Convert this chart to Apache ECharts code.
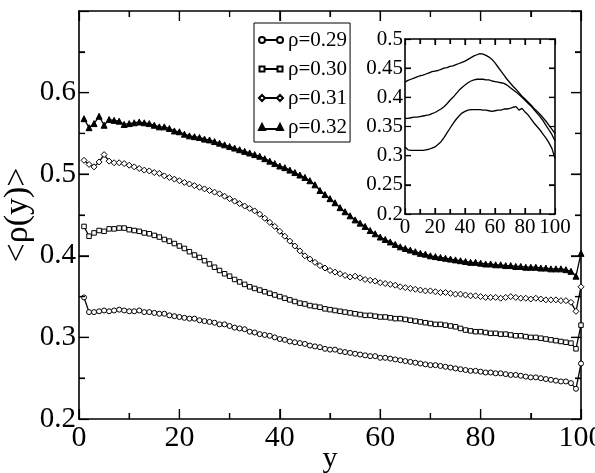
<!DOCTYPE html>
<html>
<head>
<meta charset="utf-8">
<script src="https://cdn.jsdelivr.net/npm/echarts@6/dist/echarts.min.js"></script>
<style>html,body{margin:0;padding:0;background:#fff;}#c{width:595px;height:473px;}#err{position:absolute;left:0;top:0;font:9px sans-serif;color:#c00;}</style>
</head>
<body>
<div id="c"></div>
<div id="err"></div>
<script>
window.onerror = function(m){ document.getElementById('err').textContent += String(m) + ' | '; };
// ---- main panel data ----
var mainX = [1,2,3,4,5,6,7,8,9,10,11,12,13,14,15,16,17,18,19,20,21,22,23,24,25,26,27,28,29,30,31,32,33,34,35,36,37,38,39,40,41,42,43,44,45,46,47,48,49,50,51,52,53,54,55,56,57,58,59,60,61,62,63,64,65,66,67,68,69,70,71,72,73,74,75,76,77,78,79,80,81,82,83,84,85,86,87,88,89,90,91,92,93,94,95,96,97,98,99,100];
var rho029 = [0.349,0.331,0.331,0.332,0.333,0.332,0.333,0.334,0.333,0.332,0.332,0.333,0.331,0.331,0.330,0.329,0.329,0.327,0.326,0.325,0.324,0.323,0.323,0.321,0.320,0.319,0.318,0.316,0.316,0.314,0.312,0.311,0.310,0.307,0.306,0.304,0.303,0.302,0.300,0.298,0.297,0.295,0.294,0.293,0.292,0.290,0.289,0.288,0.286,0.285,0.285,0.283,0.282,0.281,0.280,0.279,0.278,0.277,0.277,0.275,0.275,0.274,0.273,0.272,0.271,0.270,0.269,0.268,0.267,0.266,0.266,0.265,0.264,0.263,0.262,0.261,0.260,0.259,0.259,0.258,0.257,0.257,0.256,0.256,0.255,0.254,0.254,0.253,0.252,0.251,0.251,0.250,0.249,0.248,0.247,0.246,0.246,0.244,0.237,0.268];
var rho030 = [0.436,0.424,0.428,0.431,0.430,0.433,0.433,0.434,0.434,0.432,0.431,0.430,0.428,0.427,0.425,0.423,0.420,0.418,0.415,0.412,0.409,0.405,0.401,0.398,0.394,0.390,0.386,0.382,0.378,0.375,0.371,0.368,0.365,0.362,0.360,0.358,0.356,0.354,0.352,0.350,0.348,0.346,0.344,0.342,0.341,0.339,0.338,0.337,0.335,0.334,0.333,0.332,0.331,0.330,0.329,0.328,0.327,0.327,0.326,0.325,0.325,0.324,0.323,0.323,0.322,0.321,0.320,0.319,0.318,0.317,0.316,0.316,0.315,0.314,0.313,0.311,0.309,0.308,0.307,0.307,0.306,0.305,0.305,0.304,0.304,0.303,0.302,0.302,0.301,0.300,0.300,0.299,0.298,0.297,0.296,0.295,0.294,0.293,0.286,0.315];
var rho031 = [0.517,0.512,0.509,0.515,0.524,0.516,0.514,0.514,0.513,0.511,0.509,0.507,0.505,0.504,0.502,0.501,0.498,0.496,0.494,0.492,0.490,0.488,0.486,0.484,0.482,0.480,0.478,0.476,0.473,0.470,0.467,0.464,0.461,0.458,0.455,0.451,0.446,0.441,0.436,0.430,0.424,0.418,0.412,0.406,0.400,0.396,0.392,0.388,0.385,0.382,0.380,0.378,0.376,0.374,0.375,0.373,0.371,0.370,0.369,0.367,0.366,0.365,0.364,0.362,0.361,0.360,0.359,0.358,0.357,0.357,0.356,0.355,0.355,0.354,0.353,0.353,0.352,0.351,0.351,0.350,0.349,0.349,0.349,0.348,0.349,0.350,0.349,0.348,0.348,0.347,0.348,0.347,0.346,0.346,0.346,0.345,0.345,0.343,0.332,0.362];
var rho032 = [0.568,0.557,0.562,0.571,0.560,0.567,0.566,0.565,0.561,0.562,0.563,0.564,0.563,0.562,0.560,0.558,0.558,0.556,0.553,0.552,0.549,0.547,0.546,0.545,0.543,0.542,0.540,0.538,0.536,0.534,0.532,0.530,0.528,0.526,0.524,0.522,0.519,0.516,0.513,0.510,0.508,0.505,0.502,0.499,0.496,0.492,0.487,0.480,0.475,0.470,0.465,0.459,0.454,0.449,0.444,0.440,0.436,0.431,0.427,0.423,0.420,0.417,0.414,0.411,0.409,0.407,0.405,0.403,0.402,0.400,0.399,0.398,0.397,0.396,0.395,0.394,0.393,0.392,0.392,0.391,0.390,0.390,0.389,0.389,0.388,0.388,0.387,0.387,0.386,0.386,0.386,0.385,0.385,0.384,0.384,0.384,0.383,0.381,0.375,0.403];
// ---- inset data ----
var insetX = [0,2,4,6,8,10,12,14,16,18,20,22,24,26,28,30,32,34,36,38,40,42,44,46,48,50,52,54,56,58,60,62,64,66,68,70,72,74,76,78,80,82,84,86,88,90,92,94,96,98,100];
var insetTop = [0.426,0.429,0.431,0.433,0.435,0.437,0.438,0.440,0.442,0.444,0.445,0.446,0.448,0.450,0.451,0.453,0.454,0.456,0.458,0.460,0.462,0.465,0.468,0.471,0.473,0.475,0.474,0.472,0.469,0.465,0.459,0.452,0.445,0.438,0.431,0.425,0.419,0.414,0.408,0.402,0.397,0.392,0.387,0.381,0.376,0.371,0.365,0.359,0.352,0.345,0.338];
var insetMid = [0.364,0.364,0.365,0.366,0.366,0.367,0.368,0.369,0.370,0.372,0.374,0.377,0.380,0.384,0.389,0.395,0.400,0.406,0.412,0.417,0.421,0.425,0.428,0.430,0.431,0.431,0.431,0.430,0.430,0.428,0.427,0.426,0.425,0.424,0.421,0.417,0.413,0.409,0.405,0.400,0.395,0.390,0.385,0.379,0.373,0.367,0.360,0.352,0.344,0.336,0.325];
var insetLow = [0.315,0.310,0.309,0.309,0.309,0.309,0.309,0.310,0.311,0.313,0.315,0.319,0.324,0.331,0.339,0.347,0.355,0.362,0.368,0.373,0.376,0.378,0.379,0.379,0.379,0.379,0.378,0.378,0.377,0.376,0.377,0.378,0.378,0.380,0.380,0.381,0.383,0.384,0.378,0.381,0.375,0.370,0.363,0.356,0.350,0.344,0.337,0.330,0.322,0.312,0.295];
// ---- labels / tick values ----
var seriesNames = ['ρ=0.29','ρ=0.30','ρ=0.31','ρ=0.32'];
var xTickLabels = ['0','20','40','60','80','100'];
var yTickLabels = ['0.2','0.3','0.4','0.5','0.6'];
var mainTickX = [0,10,20,30,40,50,60,70,80,90,100];
var mainTickY = [0.25,0.3,0.35,0.4,0.45,0.5,0.55,0.6,0.65];
var insetTickX = [10,20,30,40,50,60,70,80,90];
var insetTickY = [0.25,0.3,0.35,0.4,0.45];

function pairs(xs, ys){ return ys.map(function(v,i){ return [xs[i], v]; }); }

var FONT = 'Liberation Serif';
var BLACK = '#000';
function axline(){ return {show:true, onZero:false, lineStyle:{color:BLACK, width:1.6}}; }
function tick(len){ return {show:true, inside:true, length:len, lineStyle:{color:BLACK, width:1.2}}; }
function minor(len){ return {show:true, splitNumber:2, length:len, lineStyle:{color:BLACK, width:1.2}}; }

// plot-area geometry (pixels) used to turn tick lengths into data units
var G0 = {left:79, top:11, right:14, bottom:54};
var G1 = {left:405, top:39, width:150, height:175};
var W0 = 595 - G0.left - G0.right, H0 = 473 - G0.top - G0.bottom;

var xAxes = [
  {type:'value', gridIndex:0, position:'bottom', min:0, max:100, interval:20,
   axisLine:axline(), axisTick:tick(10), minorTick:minor(6), splitLine:{show:false},
   axisLabel:{show:true, fontFamily:FONT, fontSize:30, color:BLACK, margin:4, hideOverlap:false,
     formatter:function(v){ var i = xTickLabels.indexOf(String(Math.round(v))); return i>=0 ? xTickLabels[i] : ''; }},
   name:'y', nameLocation:'middle', nameGap:25, nameMoveOverlap:false,
   nameTextStyle:{fontFamily:FONT, fontSize:30, color:BLACK}},
  {type:'value', gridIndex:0, position:'top', min:0, max:100, interval:20,
   axisLine:axline(), axisTick:tick(10), minorTick:minor(6), splitLine:{show:false},
   axisLabel:{show:false}},
  {type:'value', gridIndex:1, position:'bottom', min:0, max:100, interval:20,
   axisLine:axline(), axisTick:tick(6), minorTick:minor(5), splitLine:{show:false},
   axisLabel:{show:true, fontFamily:FONT, fontSize:21, color:BLACK, margin:3, hideOverlap:false}},
  {type:'value', gridIndex:1, position:'top', min:0, max:100, interval:20,
   axisLine:axline(), axisTick:tick(6), minorTick:minor(5), splitLine:{show:false},
   axisLabel:{show:false}}
];
var yAxes = [
  {type:'value', gridIndex:0, position:'left', min:0.2, max:0.7, interval:0.1,
   axisLine:axline(), axisTick:tick(10), minorTick:minor(6), splitLine:{show:false},
   axisLabel:{show:true, fontFamily:FONT, fontSize:29, color:BLACK, margin:3, hideOverlap:false,
     formatter:function(v){ var s=(+v).toFixed(1); return yTickLabels.indexOf(s)>=0 ? s : ''; }},
   name:'<ρ(y)>', nameLocation:'middle', nameGap:44, nameMoveOverlap:false,
   nameTextStyle:{fontFamily:FONT, fontSize:34, color:BLACK}},
  {type:'value', gridIndex:0, position:'right', min:0.2, max:0.7, interval:0.1,
   axisLine:axline(), axisTick:tick(10), minorTick:minor(6), splitLine:{show:false},
   axisLabel:{show:false}},
  {type:'value', gridIndex:1, position:'left', min:0.2, max:0.5, interval:0.05,
   axisLine:axline(), axisTick:tick(6), splitLine:{show:false},
   axisLabel:{show:true, fontFamily:FONT, fontSize:21, color:BLACK, margin:2, hideOverlap:false,
     formatter:function(v){ return String(+(+v).toFixed(2)); }}},
  {type:'value', gridIndex:1, position:'right', min:0.2, max:0.5, interval:0.05,
   axisLine:axline(), axisTick:tick(6), splitLine:{show:false},
   axisLabel:{show:false}}
];

function mainSeries(name, ys, symbol, size, fill){
  return {
    name:name, type:'line', xAxisIndex:0, yAxisIndex:0,
    data:pairs(mainX, ys), symbol:symbol, symbolSize:size, showAllSymbol:true,
    lineStyle:{color:BLACK, width:1.3},
    itemStyle:{color:fill, borderColor:BLACK, borderWidth:1}
  };
}
function insetSeries(ys){
  return {
    type:'line', xAxisIndex:2, yAxisIndex:2, data:pairs(insetX, ys),
    symbol:'none', lineStyle:{color:BLACK, width:1.3}
  };
}

// Inward frame ticks drawn as short two-point line segments on each side, through the axes' scales.
function isMajor(v, step){ return Math.abs(v/step - Math.round(v/step)) < 1e-6; }
function tickSegments(xi, yi, xs, ys, xr, yr, pxW, pxH, xStep, yStep, Lmaj, Lmin){
  var out = [];
  var ux = (xr[1]-xr[0]) / pxW, uy = (yr[1]-yr[0]) / pxH;
  function seg(a, b){
    out.push({type:'line', xAxisIndex:xi, yAxisIndex:yi, data:[a, b], symbol:'none', silent:true,
              lineStyle:{color:BLACK, width:1.2}, z:8, animation:false});
  }
  xs.forEach(function(v){
    var L = (isMajor(v, xStep) ? Lmaj : Lmin) * uy;
    seg([v, yr[0]], [v, yr[0] + L]);
    seg([v, yr[1]], [v, yr[1] - L]);
  });
  ys.forEach(function(v){
    var L = (isMajor(v, yStep) ? Lmaj : Lmin) * ux;
    seg([xr[0], v], [xr[0] + L, v]);
    seg([xr[1], v], [xr[1] - L, v]);
  });
  return out;
}

var icons = [
  'path://M0,3A3,3 0 1 1 6,3A3,3 0 1 1 0,3ZM6,3L18,3M18,3A3,3 0 1 1 24,3A3,3 0 1 1 18,3Z',
  'path://M0.5,0.5H5.5V5.5H0.5ZM5.5,3L18.5,3M18.5,0.5H23.5V5.5H18.5ZM0,0M24,6',
  'path://M0,3L3,0L6,3L3,6ZM6,3L18,3M18,3L21,0L24,3L21,6Z',
  'path://M0,6L3,0L6,6ZM6,5L18,5M18,6L21,0L24,6Z'
];

var allSeries = [
  mainSeries(seriesNames[0], rho029, 'circle', 5, '#fff'),
  mainSeries(seriesNames[1], rho030, 'rect', 4.5, '#fff'),
  mainSeries(seriesNames[2], rho031, 'diamond', 6, '#fff'),
  mainSeries(seriesNames[3], rho032, 'triangle', 6, BLACK),
  insetSeries(insetTop),
  insetSeries(insetMid),
  insetSeries(insetLow)
].concat(
  tickSegments(0, 0, mainTickX, mainTickY, [0,100], [0.2,0.7], W0, H0, 20, 0.1, 10, 6),
  tickSegments(2, 2, insetTickX, insetTickY, [0,100], [0.2,0.5], G1.width, G1.height, 20, 0.05, 6, 5)
);

var chart = echarts.init(document.getElementById('c'), null, {renderer:'canvas'});
chart.setOption({
  animation:false,
  backgroundColor:'#fff',
  grid:[
    {left:G0.left, top:G0.top, right:G0.right, bottom:G0.bottom, containLabel:false, outerBoundsMode:'none'},
    {left:G1.left, top:G1.top, width:G1.width, height:G1.height, containLabel:false, outerBoundsMode:'none'}
  ],
  xAxis:xAxes,
  yAxis:yAxes,
  legend:{
    orient:'vertical', left:254, top:23,
    itemWidth:24, itemHeight:6, itemGap:7,
    padding:[6,3,4,4],
    borderColor:BLACK, borderWidth:1, backgroundColor:'#fff',
    textStyle:{fontFamily:FONT, fontSize:21, color:BLACK, lineHeight:22},
    data:seriesNames.map(function(n,i){ return {name:n, icon:icons[i]}; }),
    selectedMode:false
  },
  series:allSeries
});
</script>
</body>
</html>
